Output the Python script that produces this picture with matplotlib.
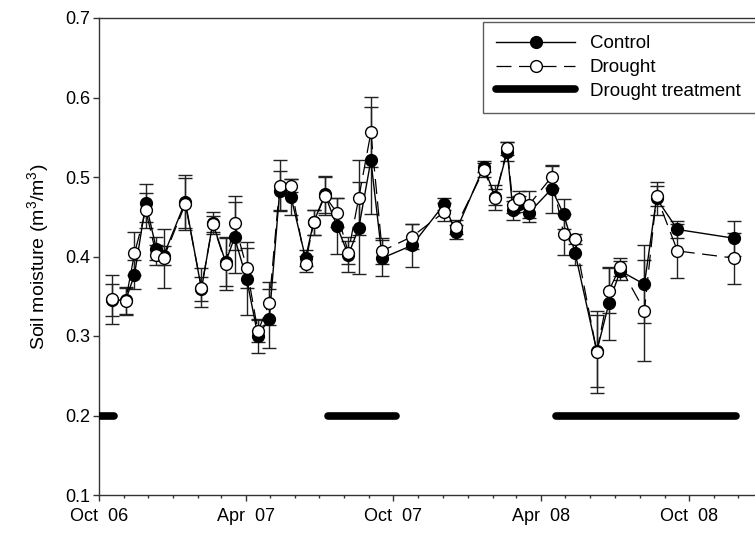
"""Soil moisture under control and drought treatments, Oct 2006 - Dec 2008"""

import matplotlib
matplotlib.use("Agg")
import matplotlib.pyplot as plt
import matplotlib.dates as mdates
from matplotlib.lines import Line2D
import pandas as pd

plt.rcParams["font.family"] = ["Liberation Sans", "DejaVu Sans"]
plt.rcParams["mathtext.default"] = "regular"

SAMPLE_DATES = [
    "2006-10-17", "2006-11-03", "2006-11-14", "2006-11-28", "2006-12-11",
    "2006-12-20", "2007-01-16", "2007-02-05", "2007-02-19", "2007-03-07",
    "2007-03-18", "2007-04-02", "2007-04-16", "2007-04-30", "2007-05-13",
    "2007-05-27", "2007-06-14", "2007-06-24", "2007-07-08", "2007-07-23",
    "2007-08-06", "2007-08-19", "2007-09-03", "2007-09-17", "2007-10-24",
    "2007-12-03", "2007-12-17", "2008-01-21", "2008-02-04", "2008-02-19",
    "2008-02-26", "2008-03-04", "2008-03-17", "2008-04-14", "2008-04-29",
    "2008-05-13", "2008-06-09", "2008-06-24", "2008-07-08", "2008-08-07",
    "2008-08-22", "2008-09-17", "2008-11-26",
]

CONTROL = [
    0.345, 0.345, 0.377, 0.467, 0.410, 0.401, 0.469, 0.359, 0.442, 0.393,
    0.424, 0.372, 0.300, 0.322, 0.483, 0.475, 0.398, 0.443, 0.478, 0.438,
    0.402, 0.436, 0.521, 0.398, 0.414, 0.466, 0.431, 0.513, 0.475, 0.532,
    0.458, 0.466, 0.455, 0.485, 0.453, 0.405, 0.281, 0.341, 0.382, 0.365,
    0.473, 0.434, 0.423,
]
CONTROL_SE = [
    0.020, 0.017, 0.018, 0.024, 0.014, 0.012, 0.033, 0.015, 0.014, 0.030,
    0.045, 0.046, 0.022, 0.037, 0.025, 0.023, 0.010, 0.016, 0.023, 0.035,
    0.022, 0.058, 0.067, 0.023, 0.027, 0.007, 0.009, 0.007, 0.010, 0.012,
    0.012, 0.010, 0.011, 0.030, 0.019, 0.016, 0.045, 0.046, 0.012, 0.049,
    0.021, 0.011, 0.022,
]

DROUGHT = [
    0.346, 0.344, 0.404, 0.458, 0.402, 0.398, 0.466, 0.361, 0.441, 0.391,
    0.442, 0.386, 0.306, 0.341, 0.489, 0.489, 0.391, 0.443, 0.476, 0.455,
    0.405, 0.474, 0.556, 0.407, 0.425, 0.456, 0.437, 0.509, 0.474, 0.536,
    0.465, 0.472, 0.465, 0.500, 0.428, 0.422, 0.280, 0.357, 0.387, 0.332,
    0.476, 0.407, 0.398,
]
DROUGHT_SE = [
    0.031, 0.017, 0.027, 0.022, 0.013, 0.037, 0.033, 0.024, 0.010, 0.033,
    0.034, 0.025, 0.014, 0.027, 0.032, 0.008, 0.010, 0.016, 0.024, 0.018,
    0.014, 0.047, 0.044, 0.016, 0.016, 0.011, 0.009, 0.009, 0.016, 0.008,
    0.010, 0.010, 0.017, 0.014, 0.026, 0.006, 0.052, 0.028, 0.011, 0.063,
    0.013, 0.034, 0.032,
]

# periods when rain-out shelters were in place
TREATMENT_PERIODS = [
    ("2006-09-20", "2006-10-20"),
    ("2007-07-12", "2007-10-04"),
    ("2008-04-20", "2008-11-29"),
]
TREATMENT_LEVEL = 0.2

TICK_SIZE = 13
LEGEND_SIZE = 13.5


def main():
    dates = pd.to_datetime(SAMPLE_DATES)

    fig = plt.figure(figsize=(7.55, 5.39), dpi=100)
    ax = fig.add_axes([99 / 755, 44 / 539, 664 / 755, 477 / 539])

    # error bars first, then the connecting lines and markers
    ax.errorbar(dates, CONTROL, yerr=CONTROL_SE, fmt="none", ecolor="#222222",
                elinewidth=1.0, capsize=5, capthick=1.0, zorder=2)
    ax.errorbar(dates, DROUGHT, yerr=DROUGHT_SE, fmt="none", ecolor="#222222",
                elinewidth=1.0, capsize=5, capthick=1.0, zorder=2)
    ax.plot(dates, CONTROL, "-", color="black", lw=1.0, marker="o", ms=8.5,
            mfc="black", mec="black", mew=1.0, zorder=3)
    ax.plot(dates, DROUGHT, "--", color="black", lw=0.9, dashes=(12, 6),
            marker="o", ms=8.5, mfc="white", mec="black", mew=1.0, zorder=4)

    for start, end in TREATMENT_PERIODS:
        ax.plot(pd.to_datetime([start, end]), [TREATMENT_LEVEL, TREATMENT_LEVEL],
                color="black", lw=5.5, solid_capstyle="round", zorder=3)

    ax.set_xlim(pd.Timestamp("2006-10-01"), pd.Timestamp("2009-01-01"))
    ax.set_ylim(0.1, 0.7)
    ax.set_yticks([0.1, 0.2, 0.3, 0.4, 0.5, 0.6, 0.7])
    ax.yaxis.set_major_formatter(plt.FormatStrFormatter("%.1f"))

    ax.xaxis.set_major_locator(mdates.MonthLocator(bymonth=[4, 10]))
    ax.xaxis.set_minor_locator(mdates.MonthLocator())
    ax.xaxis.set_major_formatter(mdates.DateFormatter("%b  %y"))

    ax.tick_params(axis="both", which="major", direction="out", length=4.5,
                   width=1.0, colors="#333333", labelcolor="black")
    ax.tick_params(axis="x", which="major", labelsize=TICK_SIZE, pad=5)
    ax.tick_params(axis="y", which="major", labelsize=TICK_SIZE, pad=2)
    ax.tick_params(axis="x", which="minor", direction="out", length=2.5,
                   width=1.0, colors="#333333")

    for side in ("left", "bottom", "top"):
        ax.spines[side].set_color("#333333")
        ax.spines[side].set_linewidth(1.0)
    ax.spines["right"].set_visible(False)

    ax.set_ylabel("Soil moisture (m$^3$/m$^3$)", fontsize=14, labelpad=10)

    handles = [
        Line2D([], [], color="black", lw=1.0, marker="o", ms=8.5,
               mfc="black", mec="black"),
        Line2D([], [], color="black", lw=0.9, ls="--", dashes=(12, 6),
               marker="o", ms=8.5, mfc="white", mec="black"),
        Line2D([], [], color="black", lw=5.5, solid_capstyle="round"),
    ]
    labels = ["Control", "Drought", "Drought treatment"]
    # box runs off the right edge of the figure
    leg = fig.legend(handles, labels, loc="upper left", mode="expand",
                     bbox_to_anchor=(483 / 755, 1 - 22 / 539, 0.4, 0),
                     fontsize=LEGEND_SIZE, frameon=True, fancybox=False,
                     handlelength=4.2, handletextpad=0.8, borderpad=0.7,
                     labelspacing=0.36, numpoints=1, borderaxespad=0)
    leg.get_frame().set_edgecolor("#333333")
    leg.get_frame().set_linewidth(1.0)

    fig.savefig("out.png", dpi=100)
    plt.close(fig)


if __name__ == "__main__":
    main()
